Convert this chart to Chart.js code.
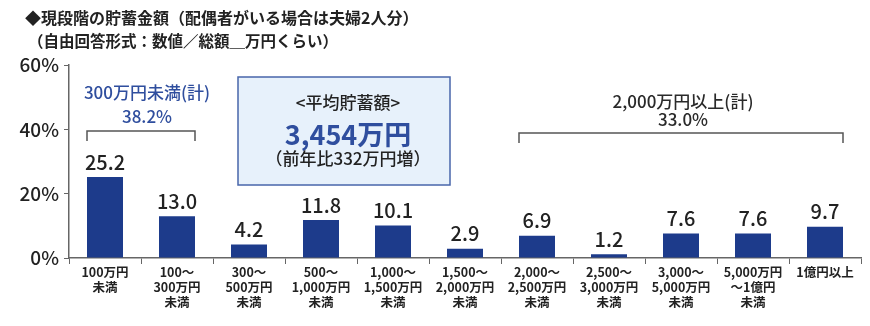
<!DOCTYPE html>
<html>
<head>
<meta charset="utf-8">
<script src="https://cdn.jsdelivr.net/npm/chart.js@4"></script>
<style>
  html, body { margin: 0; padding: 0; background: #fff; }
  #wrap { width: 870px; height: 326px; }
</style>
</head>
<body>
<div id="wrap"><canvas id="savingsChart"></canvas></div>
<script>
// Savings amount distribution (%)
const categories = [
  ["100万円", "未満"],
  ["100～", "300万円", "未満"],
  ["300～", "500万円", "未満"],
  ["500～", "1,000万円", "未満"],
  ["1,000～", "1,500万円", "未満"],
  ["1,500～", "2,000万円", "未満"],
  ["2,000～", "2,500万円", "未満"],
  ["2,500～", "3,000万円", "未満"],
  ["3,000～", "5,000万円", "未満"],
  ["5,000万円", "～1億円", "未満"],
  ["1億円以上"]
];
const shares = [25.2, 13.0, 4.2, 11.8, 10.1, 2.9, 6.9, 1.2, 7.6, 7.6, 9.7];
const yTicks = [0, 20, 40, 60];

const titleLines = [
  "◆現段階の貯蓄金額（配偶者がいる場合は夫婦2人分）",
  "（自由回答形式：数値／総額＿万円くらい）"
];
const lowGroup = { from: 0, to: 1, label: "300万円未満(計)", value: "38.2%" };
const highGroup = { from: 6, to: 10, label: "2,000万円以上(計)", value: "33.0%" };
const averageBox = ["<平均貯蓄額>", "3,454万円", "（前年比332万円増）"];

const FONT = '"Noto Sans CJK JP", "Noto Sans", sans-serif';
const BAR = "#1d3b8b";
const ACCENT = "#2f4e9e";

// titles, value labels, group brackets and the average box
const overlay = {
  id: "overlay",
  afterDraw(chart) {
    const ctx = chart.ctx;
    const x = chart.scales.x;
    const bars = chart.getDatasetMeta(0).data;
    ctx.save();

    ctx.fillStyle = "#222";
    ctx.textAlign = "left";
    ctx.textBaseline = "middle";
    ctx.font = "bold 16px " + FONT;
    ctx.fillText(titleLines[0], 25, 18);
    ctx.font = "bold 15.5px " + FONT;
    ctx.fillText(titleLines[1], 28, 41);

    // values above bars
    ctx.textAlign = "center";
    ctx.textBaseline = "bottom";
    ctx.font = "500 20px " + FONT;
    ctx.fillStyle = "#222";
    bars.forEach((b, i) => {
      ctx.fillText(shares[i].toFixed(1), b.x, b.y - 5);
    });

    function bracket(g, color, y, labelDy, valueDy, shift) {
      const l = bars[g.from].x - bars[g.from].width / 2;
      const r = bars[g.to].x + bars[g.to].width / 2;
      const mid = (l + r) / 2 + shift;
      ctx.strokeStyle = "#555";
      ctx.lineWidth = 1.5;
      ctx.beginPath();
      ctx.moveTo(l, y + 10);
      ctx.lineTo(l, y);
      ctx.lineTo(r, y);
      ctx.lineTo(r, y + 10);
      ctx.stroke();
      ctx.fillStyle = color;
      ctx.textBaseline = "middle";
      ctx.font = "500 17px " + FONT;
      ctx.fillText(g.label, mid, y - labelDy);
      ctx.fillText(g.value, mid, y - valueDy);
    }
    bracket(lowGroup, ACCENT, 131, 38, 14, 6);
    bracket(highGroup, "#2a2a2a", 133, 31, 13, 2);

    // average savings box, starting just right of the 300～500 slot edge
    const slotEdge = (x.getPixelForValue(1) + x.getPixelForValue(2)) / 2;
    const bx = slotEdge + 25, bw = 212, by = 77, bh = 108;
    ctx.fillStyle = "#e7f1fb";
    ctx.fillRect(bx, by, bw, bh);
    ctx.strokeStyle = "#4866ab";
    ctx.lineWidth = 1.5;
    ctx.strokeRect(bx, by, bw, bh);
    const cx = bx + bw / 2 + 4;
    ctx.textBaseline = "middle";
    ctx.fillStyle = "#222";
    ctx.font = "500 17px " + FONT;
    ctx.fillText(averageBox[0], cx, 103);
    ctx.fillStyle = ACCENT;
    ctx.font = "bold 27px " + FONT;
    ctx.fillText(averageBox[1], cx, 135);
    ctx.fillStyle = "#222";
    ctx.font = "500 17px " + FONT;
    ctx.fillText(averageBox[2], cx, 159);

    ctx.restore();
  }
};

new Chart(document.getElementById("savingsChart"), {
  type: "bar",
  data: {
    labels: categories,
    datasets: [{
      data: shares,
      backgroundColor: BAR,
      barPercentage: 0.5,
      categoryPercentage: 1.0
    }]
  },
  options: {
    responsive: true,
    maintainAspectRatio: false,
    animation: false,
    layout: { padding: { top: 65, left: 9, right: 9, bottom: 4 } },
    plugins: {
      legend: { display: false },
      tooltip: { enabled: false }
    },
    scales: {
      x: {
        afterFit: s => { s.height = 64; },
        grid: { display: true, drawOnChartArea: false, tickLength: 6, color: "#666", offset: true },
        border: { color: "#666", width: 1.5 },
        ticks: {
          color: "#222",
          maxRotation: 0,
          autoSkip: false,
          padding: 1,
          font: { family: FONT, size: 12.5, weight: "bold", lineHeight: 1.2 }
        }
      },
      y: {
        min: 0,
        max: 60,
        afterFit: s => { s.width = 60; },
        afterBuildTicks: s => { s.ticks = yTicks.map(v => ({ value: v })); },
        grid: { display: true, drawOnChartArea: false, tickLength: 5, color: "#666" },
        border: { color: "#666", width: 1.5 },
        ticks: {
          color: "#222",
          padding: 5,
          font: { family: FONT, size: 19, weight: "500" },
          callback: v => v + "%"
        }
      }
    }
  },
  plugins: [overlay]
});
</script>
</body>
</html>
